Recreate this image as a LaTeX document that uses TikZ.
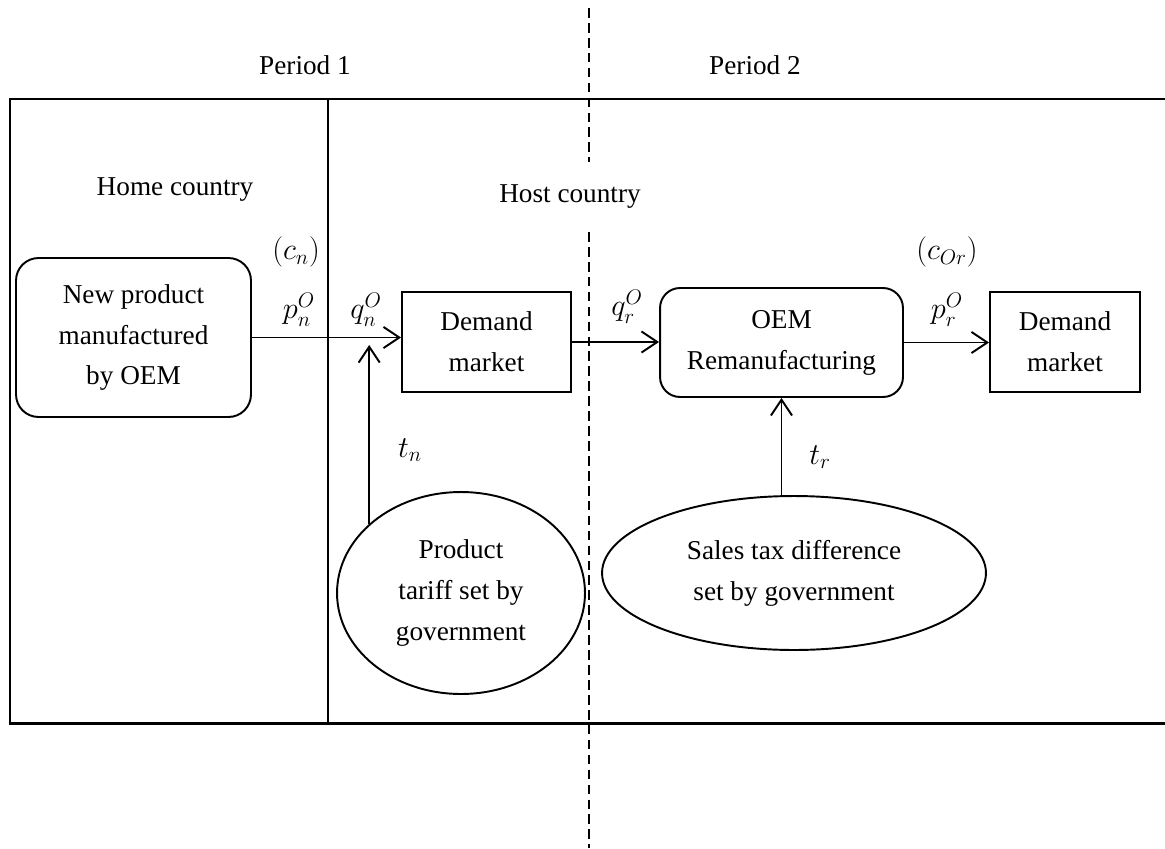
\documentclass[tikz,border=0pt]{standalone}
\usepackage{amsmath,amssymb}
\usepackage{fontspec}
\setmainfont{Liberation Serif}
\usepackage{xcolor}
\usepackage{tikz}
\usetikzlibrary{shapes.geometric, arrows.meta, positioning}

\begin{document}
\begin{tikzpicture}[
  x=0.02cm, y=-0.02cm,
  every node/.style={font=\fontsize{15.5}{23.3}\selectfont},
  box/.style={
    rectangle, draw=black, line width=1.1pt,
    minimum height=2cm, align=center, inner sep=0pt
  },
  roundbox/.style={box, rounded corners=0.45cm},
  oval/.style={ellipse, draw=black, line width=1.1pt, align=center, inner sep=0pt},
  lbl/.style={inner sep=0pt, font=\fontsize{18}{22}\selectfont},
  arrow/.style={-{Straight Barb[length=9pt, width=12pt]}, line width=1.1pt},
  frame/.style={line width=1.7pt},
  divider/.style={dash pattern=on 5.5pt off 3pt, line width=0.9pt}
]
\useasboundingbox (0,0) rectangle (1165,848);

% ---- Frame and period split ----
\draw[frame] (1165,99) -- (10,99) -- (10,723) -- (1165,723);
\draw[line width=1.1pt] (328,99) -- (328,723);
\draw[divider] (589,8) -- (589,162);
\draw[divider] (589,232) -- (589,848);

% ---- Headings ----
\node[inner sep=0pt] (per1) at (305,65)  {Period 1};
\node[inner sep=0pt] (per2) at (755,65)  {Period 2};
\node[inner sep=0pt] (home) at (175,190) {Home country};
\node[inner sep=0pt] (host) at (570,197) {Host country};

% ---- Boxes ----
\node[roundbox, minimum width=4.7cm, minimum height=3.18cm]
             (newprod) at (133.5,337.5) {New product\\manufactured\\by OEM};
\node[box, minimum width=3.38cm] (demand1) at (486.5,342) {Demand\\market};
\node[roundbox, rounded corners=0.4cm, minimum width=4.86cm, minimum height=2.18cm]
             (oem)     at (781.5,342.5) {OEM\\Remanufacturing};
\node[box, minimum width=3.0cm]  (demand2) at (1065,342) {Demand\\market};

% ---- Government ----
\node[oval, minimum width=4.96cm, minimum height=4.04cm]
             (tariff) at (461,593) {Product\\tariff set by\\government};
\node[oval, minimum width=7.68cm, minimum height=3.08cm]
             (sales)  at (794,573) {Sales tax difference\\set by government};

% ---- Labels ----
\node[lbl] (cn)  at (296,252) {$(c_n)$};
\node[lbl] (pn)  at (299,310) {$p_n^{O}$};
\node[lbl] (qn)  at (366,310) {$q_n^{O}$};
\node[lbl] (tn)  at (410,450) {$t_n$};
\node[lbl] (qr)  at (627,307) {$q_r^{O}$};
\node[lbl] (cor) at (947,252) {$(c_{Or})$};
\node[lbl] (pr)  at (947,310) {$p_r^{O}$};
\node[lbl] (tr)  at (820,457) {$t_r$};
\coordinate (tnin) at (370,345);

% ---- Arrows ----
\draw[arrow] (newprod.east) -- (newprod.east -| demand1.west);
\draw[arrow] (demand1.east) -- (demand1.east -| oem.west);
\draw[arrow] (oem.east)     -- (oem.east -| demand2.west);

\draw[arrow] (tariff.143) -- (tariff.143 |- tnin);
\draw[arrow] (oem.south |- sales.north) -- (oem.south);

\end{tikzpicture}
\end{document}
